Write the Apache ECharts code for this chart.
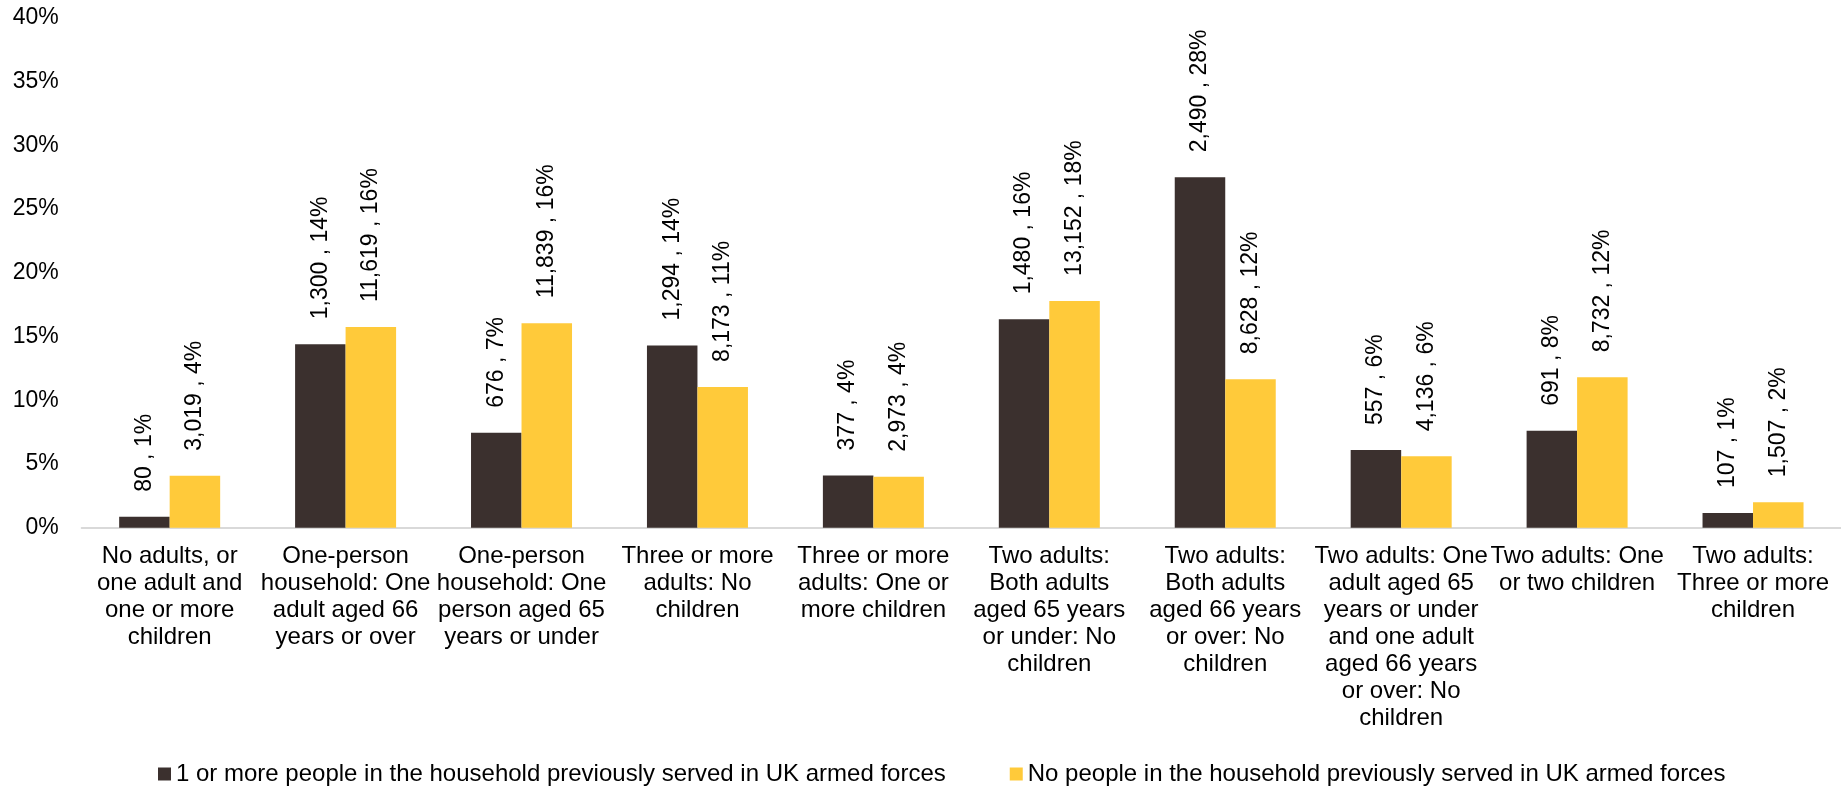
<!DOCTYPE html>
<html>
<head>
<meta charset="utf-8">
<script src="https://cdn.jsdelivr.net/npm/echarts@6/dist/echarts.min.js"></script>
<style>
  html, body { margin: 0; padding: 0; background: #ffffff; }
  #chart { width: 1841px; height: 787px; }
</style>
</head>
<body>
<div id="chart"></div>
<script>
// ---- Data ----
const categories = [
  "No adults, or\none adult and\none or more\nchildren",
  "One-person\nhousehold: One\nadult aged 66\nyears or over",
  "One-person\nhousehold: One\nperson aged 65\nyears or under",
  "Three or more\nadults: No\nchildren",
  "Three or more\nadults: One or\nmore children",
  "Two adults:\nBoth adults\naged 65 years\nor under: No\nchildren",
  "Two adults:\nBoth adults\naged 66 years\nor over: No\nchildren",
  "Two adults: One\nadult aged 65\nyears or under\nand one adult\naged 66 years\nor over: No\nchildren",
  "Two adults: One\nor two children",
  "Two adults:\nThree or more\nchildren"
];

const seriesNames = [
  "1 or more people in the household previously served in UK armed forces",
  "No people in the household previously served in UK armed forces"
];

// bar heights (percent of households)
const servedPct   = [0.85, 14.4, 7.45, 14.3, 4.1, 16.35, 27.5, 6.1, 7.6, 1.15];
const notServedPct = [4.08, 15.75, 16.05, 11.05, 4.0, 17.8, 11.65, 5.6, 11.8, 2.0];

// label texts: counts and rounded percentages
const servedCount    = [80, 1300, 676, 1294, 377, 1480, 2490, 557, 691, 107];
const servedLabelPct = [1, 14, 7, 14, 4, 16, 28, 6, 8, 1];
const notServedCount    = [3019, 11619, 11839, 8173, 2973, 13152, 8628, 4136, 8732, 1507];
const notServedLabelPct = [4, 16, 16, 11, 4, 18, 12, 6, 12, 2];

const yTicks = [0, 5, 10, 15, 20, 25, 30, 35, 40];

// ---- Chart ----
const FONT = "'Liberation Sans', Arial, sans-serif";
const chart = echarts.init(document.getElementById('chart'), null, { renderer: 'canvas' });

function makeLabel(counts, pcts) {
  return {
    show: true,
    position: 'top',
    distance: 25,
    rotate: 90,
    align: 'left',
    verticalAlign: 'middle',
    fontFamily: FONT,
    fontSize: 23,
    color: '#000000',
    formatter: p => counts[p.dataIndex].toLocaleString('en-US') + ' , ' + pcts[p.dataIndex] + '%'
  };
}

chart.setOption({
  animation: false,
  backgroundColor: '#ffffff',
  textStyle: { fontFamily: FONT },
  grid: { left: 81.7, top: 18, width: 1767, bottom: 259.3, containLabel: false },
  legend: {
    left: 153,
    top: 757,
    icon: 'rect',
    itemWidth: 13,
    itemHeight: 13,
    itemGap: 64,
    textStyle: { fontFamily: FONT, fontSize: 24, color: '#000000' },
    data: seriesNames
  },
  xAxis: {
    type: 'category',
    data: categories,
    axisLine: { show: true, lineStyle: { color: '#D9D9D9', width: 2 } },
    axisTick: { show: false },
    axisLabel: {
      interval: 0,
      margin: 15,
      fontFamily: FONT,
      fontSize: 24,
      lineHeight: 27,
      color: '#000000',
      align: 'center'
    }
  },
  yAxis: {
    type: 'value',
    min: yTicks[0],
    max: yTicks[yTicks.length - 1],
    interval: 5,
    axisLine: { show: false },
    axisTick: { show: false },
    splitLine: { show: false },
    axisLabel: {
      margin: 23,
      fontFamily: FONT,
      fontSize: 23,
      color: '#000000',
      formatter: v => v + '%'
    }
  },
  series: [
    {
      name: seriesNames[0],
      type: 'bar',
      data: servedPct,
      barWidth: 50.5,
      barGap: '0%',
      itemStyle: { color: '#3B302E' },
      label: makeLabel(servedCount, servedLabelPct)
    },
    {
      name: seriesNames[1],
      type: 'bar',
      data: notServedPct,
      barWidth: 50.5,
      barGap: '0%',
      itemStyle: { color: '#FFCA3A' },
      label: makeLabel(notServedCount, notServedLabelPct)
    }
  ]
});
</script>
</body>
</html>
